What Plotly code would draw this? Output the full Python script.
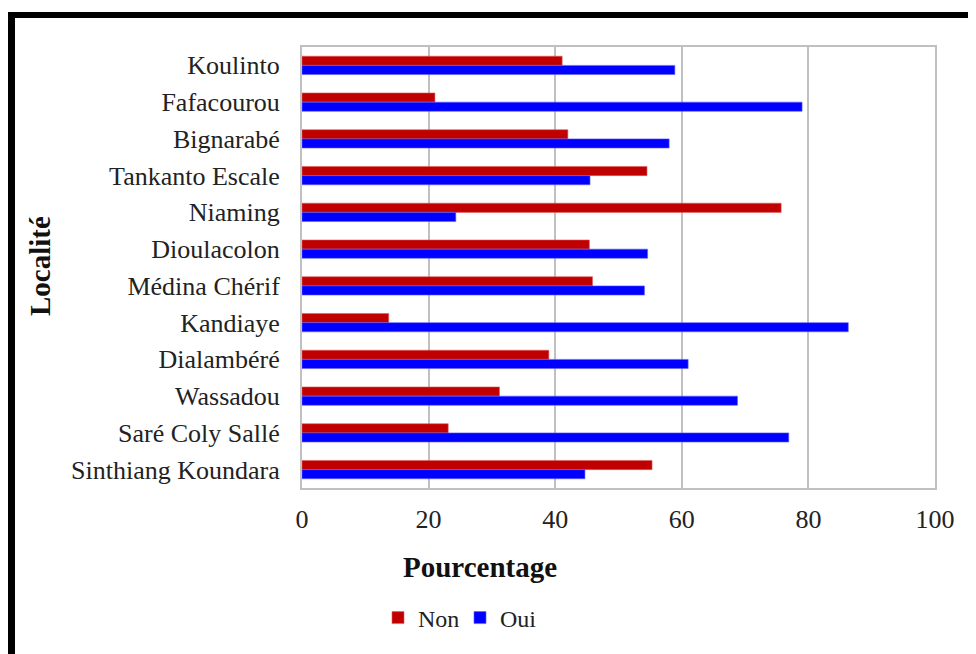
import plotly.graph_objects as go

localites = ["Koulinto", "Fafacourou", "Bignarabé", "Tankanto Escale", "Niaming",
             "Dioulacolon", "Médina Chérif", "Kandiaye", "Dialambéré", "Wassadou",
             "Saré Coly Sallé", "Sinthiang Koundara"]
non = [41.1, 21.0, 42.0, 54.5, 75.7, 45.4, 45.9, 13.7, 39.0, 31.2, 23.1, 55.3]
oui = [58.9, 79.0, 58.0, 45.5, 24.3, 54.6, 54.1, 86.3, 61.0, 68.8, 76.9, 44.7]
x_ticks = [0, 20, 40, 60, 80, 100]

FONT = "Liberation Serif"
OFF = 8  # page body margin
W, H = 976 - OFF, 654 - OFF
L, R, T, B = 302 - OFF, 976 - 935, 47 - OFF, 654 - 488
PW, PH = W - L - R, H - T - B

def px_x(p):  # p in reference pixel coords
    return (p - OFF - L) / PW

def px_y(p):
    return 1 - (p - OFF - T) / PH

fig = go.Figure()
fig.add_trace(go.Bar(y=localites, x=non, name="Non", orientation="h",
                     marker=dict(color="#c00000", line=dict(color="#e06060", width=0.6))))
fig.add_trace(go.Bar(y=localites, x=oui, name="Oui", orientation="h",
                     marker=dict(color="#0000ff", line=dict(color="#6060ff", width=0.6))))

fig.update_layout(
    width=W, height=H,
    margin=dict(l=L, r=R, t=T, b=B, autoexpand=False),
    paper_bgcolor="white", plot_bgcolor="white",
    barmode="group", bargap=0.5, bargroupgap=0,
    font=dict(family=FONT, size=26, color="#222"),
    showlegend=True,
    legend=dict(orientation="h", x=px_x(378), y=px_y(618), xanchor="left", yanchor="middle",
                font=dict(family=FONT, size=24, color="#222"), itemwidth=30,
                entrywidth=37, entrywidthmode="pixels",
                bgcolor="rgba(0,0,0,0)", traceorder="normal"),
    xaxis=dict(range=[0, 100], tickvals=x_ticks, showgrid=True, gridcolor="#c0c0c0",
               gridwidth=2, zeroline=False, showline=True, linecolor="#c0c0c0",
               linewidth=2, mirror=True, ticks="", ticklabelstandoff=7,
               tickfont=dict(family=FONT, size=26, color="#222")),
    yaxis=dict(autorange="reversed", showgrid=False, zeroline=False, showline=True,
               linecolor="#c0c0c0", linewidth=2, mirror=True, ticks="",
               ticklabelstandoff=15, tickfont=dict(family=FONT, size=26, color="#222")),
    annotations=[
        dict(text="<b>Pourcentage</b>", x=px_x(480), y=px_y(567), xref="paper", yref="paper",
             showarrow=False, font=dict(family=FONT, size=29, color="#111"),
             xanchor="center", yanchor="middle"),
        dict(text="<b>Localité</b>", x=px_x(40), y=px_y(266), xref="paper", yref="paper",
             showarrow=False, textangle=-90, font=dict(family=FONT, size=29, color="#111"),
             xanchor="center", yanchor="middle"),
    ],
    shapes=[
        dict(type="line", xref="paper", yref="paper", x0=px_x(8), x1=px_x(990),
             y0=px_y(15), y1=px_y(15), line=dict(color="black", width=6)),
        dict(type="line", xref="paper", yref="paper", x0=px_x(11.5), x1=px_x(11.5),
             y0=px_y(12), y1=px_y(670), line=dict(color="black", width=7)),
    ],
)

fig.write_html("out.html")
